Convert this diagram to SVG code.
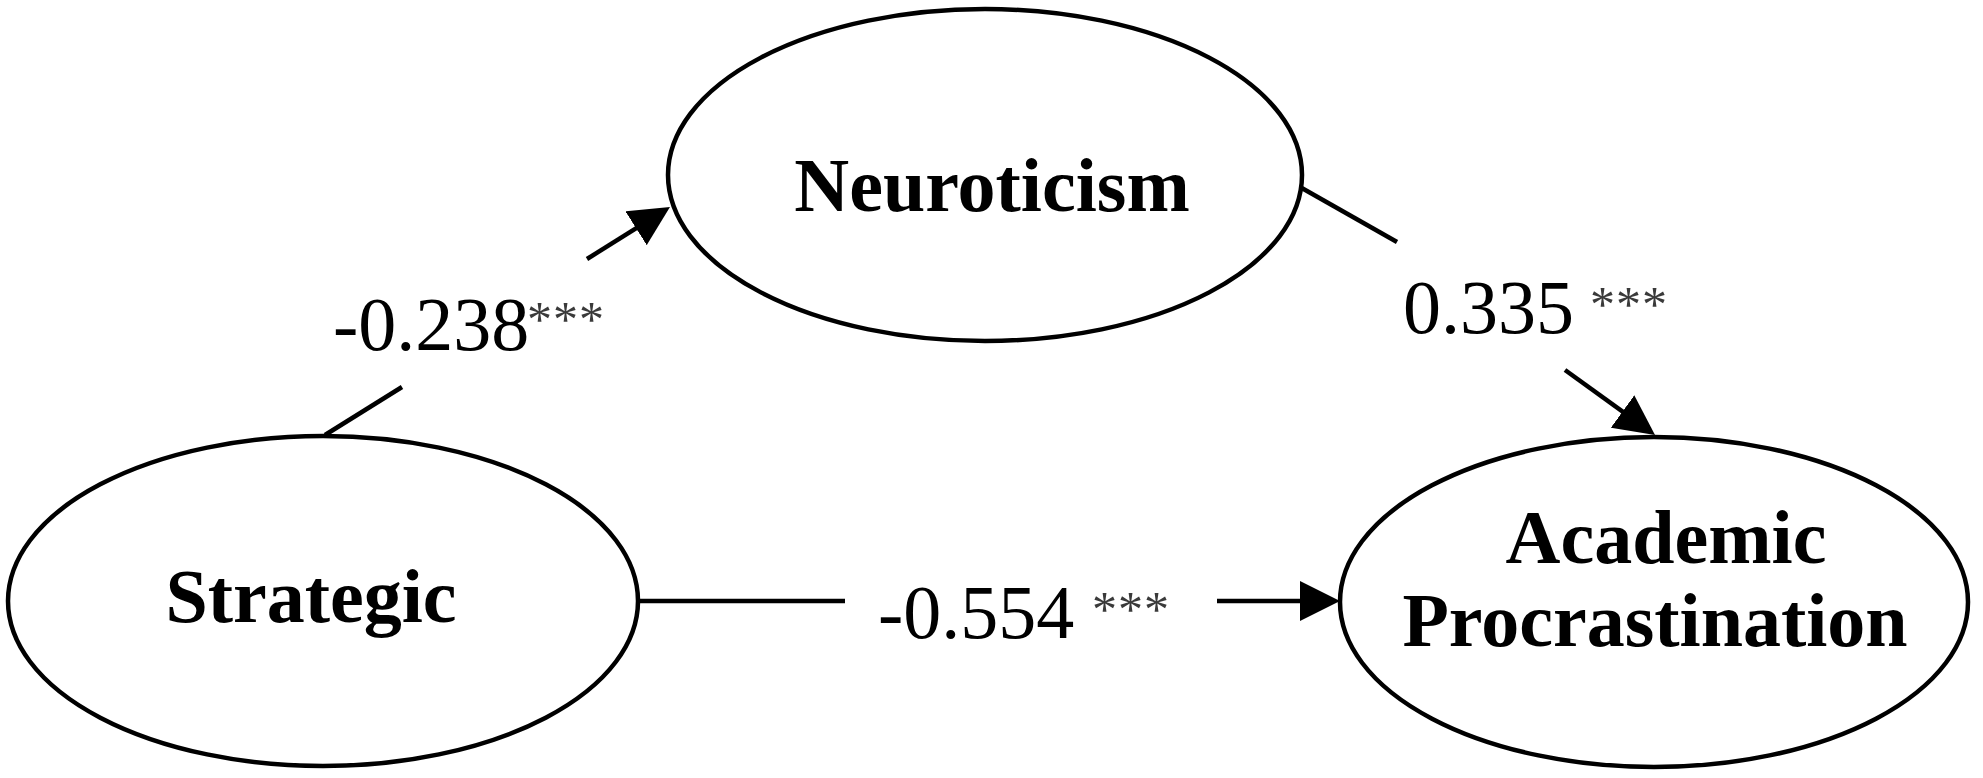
<svg xmlns="http://www.w3.org/2000/svg" width="1983" height="778" viewBox="0 0 1983 778">
<style>
  .node { fill: #ffffff; stroke: #000000; stroke-width: 4.5; }
  .ntext { font-family: "Liberation Serif", "Times New Roman", serif; font-weight: bold; font-size: 76px; fill: #000000; text-anchor: middle; }
  .edge { stroke: #000000; stroke-width: 4.5; fill: none; }
  .lbl { font-family: "Liberation Serif", "Times New Roman", serif; font-size: 76px; fill: #000000; }
  .star { font-family: "Liberation Serif", "Times New Roman", serif; font-size: 50px; fill: #3a3a3a; letter-spacing: 1px; }
</style>
<defs>
  <marker id="arrow" markerUnits="userSpaceOnUse" markerWidth="40" markerHeight="40" viewBox="0 0 40 40" refX="30" refY="20" orient="auto">
    <path d="M0,0 L40,20 L0,40 Z" fill="#000000"/>
  </marker>
</defs>
<rect width="1983" height="778" fill="#ffffff"/>

<g id="connectors">
  <g id="edge-strategic-neuroticism">
    <line class="edge" x1="325" y1="435" x2="402" y2="387"/>
    <line class="edge" x1="587" y1="259" x2="661.5" y2="212.3" marker-end="url(#arrow)"/>
    <text class="lbl" x="333" y="350">-0.238<tspan class="star" x="527" y="336">***</tspan></text>
  </g>
  <g id="edge-neuroticism-academic">
    <line class="edge" x1="1300" y1="187" x2="1397" y2="242"/>
    <line class="edge" x1="1565" y1="370" x2="1646.9" y2="429.1" marker-end="url(#arrow)"/>
    <text class="lbl" x="1403" y="333">0.335<tspan class="star" x="1590" y="321">***</tspan></text>
  </g>
  <g id="edge-strategic-academic">
    <line class="edge" x1="638" y1="601" x2="845" y2="601"/>
    <line class="edge" x1="1217" y1="601" x2="1330" y2="601" marker-end="url(#arrow)"/>
    <text class="lbl" x="878" y="638">-0.554<tspan class="star" x="1092" y="626">***</tspan></text>
  </g>
</g>

<g id="node-neuroticism">
  <ellipse class="node" cx="985" cy="175" rx="317" ry="166"/>
  <text class="ntext" x="992" y="211">Neuroticism</text>
</g>
<g id="node-strategic">
  <ellipse class="node" cx="323" cy="601" rx="315" ry="165"/>
  <text class="ntext" x="311" y="622">Strategic</text>
</g>
<g id="node-academic">
  <ellipse class="node" cx="1654" cy="602" rx="314" ry="165"/>
  <text class="ntext" x="1666" y="563">Academic</text>
  <text class="ntext" x="1655" y="646">Procrastination</text>
</g>
</svg>
